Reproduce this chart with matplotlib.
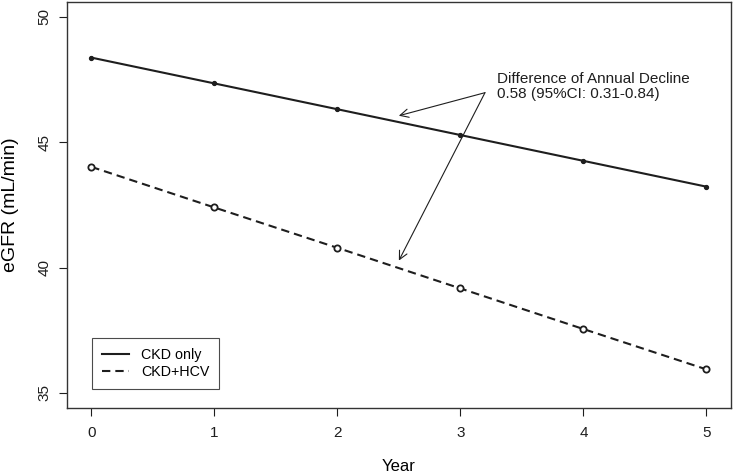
import matplotlib
matplotlib.use("Agg")
import matplotlib.pyplot as plt

plt.rcParams['font.family'] = ['Liberation Sans', 'DejaVu Sans']

# datos
years = [0, 1, 2, 3, 4, 5]
ckd_only = [48.38, 47.35, 46.32, 45.29, 44.26, 43.23]
ckd_hcv = [44.02, 42.40, 40.79, 39.17, 37.55, 35.94]
x_ticks = [0, 1, 2, 3, 4, 5]
y_ticks = [35, 40, 45, 50]
labels = ["CKD only", "CKD+HCV"]
note_1 = "Difference of Annual Decline"
note_2 = "0.58 (95%CI: 0.31-0.84)"

fig = plt.figure(figsize=(7.33, 4.76), dpi=100)
ax = fig.add_axes([0.091, 0.1429, 0.9063, 0.853])

ink = "#1e1e1e"
ax.plot(years, ckd_only, color=ink, lw=1.5, marker="o", ms=2.8, mfc=ink, mec=ink,
        label=labels[0])
ax.plot(years, ckd_hcv, color=ink, lw=1.5, dashes=(4, 2.4), marker="o", ms=4.5,
        mfc="white", mec=ink, mew=1.3, label=labels[1])

ax.set_xlim(-0.2, 5.2)
ax.set_ylim(34.4, 50.6)
ax.set_xticks(x_ticks)
ax.set_yticks(y_ticks)
ax.tick_params(axis="both", direction="out", length=5.8, width=0.8, colors=ink,
               labelsize=11)
ax.tick_params(axis="x", pad=7)
ax.tick_params(axis="y", pad=5)
for t in ax.get_yticklabels():
    t.set_rotation(90)
    t.set_va("center")
for s in ax.spines.values():
    s.set_color("#333333")
    s.set_linewidth(1.0)

ax.set_xlabel("Year", fontsize=12)
ax.set_ylabel("eGFR (mL/min)", fontsize=14)
ax.xaxis.set_label_coords(0.5, -0.143)
ax.yaxis.set_label_coords(-0.0853, 0.5)
ax.xaxis.label.set_va("center")
ax.yaxis.label.set_va("center")

# anotacion con flechas
ax.text(3.296, 47.37, note_1, fontsize=11, va="baseline", ha="left", color=ink)
ax.text(3.296, 46.76, note_2, fontsize=11, va="baseline", ha="left", color=ink)
flecha = dict(arrowstyle="->,head_length=0.6,head_width=0.3", color=ink, lw=0.8,
              shrinkA=0, shrinkB=0, mutation_scale=10)
ax.annotate("", xy=(2.50, 46.06), xytext=(3.20, 46.98), arrowprops=flecha)
ax.annotate("", xy=(2.50, 40.28), xytext=(3.20, 46.98), arrowprops=flecha)

leg = ax.legend(loc="lower left", bbox_to_anchor=(0.0385, 0.0468), borderaxespad=0,
                fontsize=10.3, frameon=True, fancybox=False, handlelength=1.9,
                handletextpad=0.8, borderpad=0.7, labelspacing=0.2)
leg.get_frame().set_edgecolor(ink)
leg.get_frame().set_linewidth(0.8)
for h in leg.get_lines():
    h.set_marker("")

fig.savefig("out.png", dpi=100)
